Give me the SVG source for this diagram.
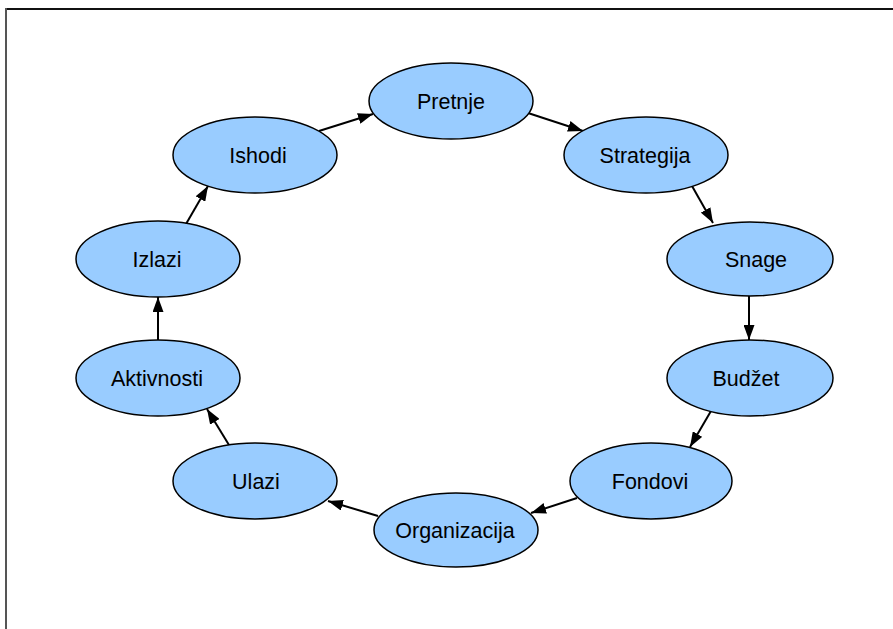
<svg xmlns="http://www.w3.org/2000/svg" width="893" height="629" viewBox="0 0 893 629">
<style>
.node ellipse{fill:#99CCFF;stroke:#000;stroke-width:1.5}
.node text{font-family:"Liberation Sans",Arial,sans-serif;font-size:21.5px;fill:#000;text-anchor:middle}
.edge{stroke:#000;stroke-width:2;fill:none;marker-end:url(#arr)}
</style>
<defs>
<marker id="arr" markerUnits="userSpaceOnUse" markerWidth="15" markerHeight="11" refX="15" refY="5.5" orient="auto">
<path d="M0,0 L15,5.5 L0,11 z" fill="#000"/>
</marker>
</defs>
<rect width="893" height="629" fill="#fff"/>
<g id="frame">
<line x1="6" y1="9" x2="893" y2="9" stroke="#111" stroke-width="2"/>
<line x1="6" y1="8" x2="6" y2="629" stroke="#555" stroke-width="2"/>
</g>
<g id="connectors">
<line class="edge" x1="319" y1="131" x2="373" y2="114"/>
<line class="edge" x1="528" y1="113" x2="583" y2="131"/>
<line class="edge" x1="692" y1="186" x2="713" y2="223"/>
<line class="edge" x1="749" y1="296" x2="749" y2="340"/>
<line class="edge" x1="711" y1="411" x2="690" y2="447"/>
<line class="edge" x1="577" y1="498" x2="531" y2="513"/>
<line class="edge" x1="378" y1="516" x2="328" y2="501"/>
<line class="edge" x1="229" y1="445" x2="207" y2="409"/>
<line class="edge" x1="158" y1="340" x2="158" y2="297"/>
<line class="edge" x1="186" y1="224" x2="208" y2="186"/>
</g>
<g id="pretnje" class="node"><ellipse cx="451" cy="101" rx="82" ry="38"/><text x="451" y="108.5">Pretnje</text></g>
<g id="strategija" class="node"><ellipse cx="646" cy="155" rx="82" ry="38"/><text x="645" y="162.5">Strategija</text></g>
<g id="snage" class="node"><ellipse cx="750" cy="259" rx="83" ry="37"/><text x="756" y="266.5">Snage</text></g>
<g id="budzet" class="node"><ellipse cx="750" cy="378" rx="83" ry="38"/><text x="746" y="385.5">Budžet</text></g>
<g id="fondovi" class="node"><ellipse cx="651" cy="481" rx="81" ry="38"/><text x="650" y="488.5">Fondovi</text></g>
<g id="organizacija" class="node"><ellipse cx="456" cy="530" rx="82" ry="37"/><text x="455" y="537.5">Organizacija</text></g>
<g id="ulazi" class="node"><ellipse cx="255" cy="481" rx="82" ry="38"/><text x="256" y="488.5">Ulazi</text></g>
<g id="aktivnosti" class="node"><ellipse cx="158" cy="378" rx="82" ry="38"/><text x="157" y="385.5">Aktivnosti</text></g>
<g id="izlazi" class="node"><ellipse cx="158" cy="259" rx="82" ry="38"/><text x="157" y="266.5">Izlazi</text></g>
<g id="ishodi" class="node"><ellipse cx="255" cy="155" rx="82" ry="38"/><text x="258" y="162.5">Ishodi</text></g>
</svg>
